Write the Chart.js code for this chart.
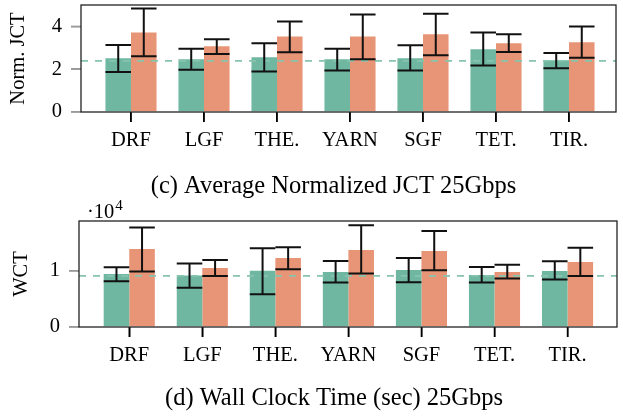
<!DOCTYPE html>
<html>
<head>
<meta charset="utf-8">
<script src="https://cdn.jsdelivr.net/npm/chart.js@4.4.1/dist/chart.umd.min.js"></script>
<style>
  html, body { margin: 0; padding: 0; background: #fff; }
  #wrap { position: relative; width: 623px; height: 416px; }
  .box { position: absolute; left: 0; width: 623px; }
  #top { top: 0; height: 200px; }
  #bot { top: 200px; height: 216px; }
</style>
</head>
<body>
<div id="wrap">
  <div class="box" id="top"><canvas id="jctChart"></canvas></div>
  <div class="box" id="bot"><canvas id="wctChart"></canvas></div>
</div>
<script>
const categories = ["DRF", "LGF", "THE.", "YARN", "SGF", "TET.", "TIR."];

// (c) normalized JCT
const jctGreen = [2.51, 2.47, 2.56, 2.47, 2.51, 2.93, 2.42];
const jctGreenLow = [1.87, 1.98, 1.89, 1.94, 1.94, 2.17, 2.05];
const jctGreenHigh = [3.13, 2.95, 3.21, 2.96, 3.12, 3.71, 2.76];
const jctOrange = [3.72, 3.07, 3.53, 3.53, 3.63, 3.21, 3.26];
const jctOrangeLow = [2.6, 2.71, 2.79, 2.47, 2.65, 2.8, 2.53];
const jctOrangeHigh = [4.84, 3.4, 4.23, 4.56, 4.59, 3.63, 4.0];
const jctRef = 2.39;
const jctTicks = [0, 2, 4];

// (d) wall clock time (sec)
const wctGreen = [9470, 9170, 10050, 9820, 10180, 9290, 10000];
const wctGreenLow = [8170, 6980, 5860, 7920, 7990, 7920, 8460];
const wctGreenHigh = [10660, 11300, 14030, 11780, 12310, 10710, 11720];
const wctOrange = [13900, 10530, 12310, 13730, 13550, 9820, 11600];
const wctOrangeLow = [9880, 9110, 10300, 9520, 10120, 8630, 9110];
const wctOrangeHigh = [17760, 11950, 14210, 18120, 17110, 11120, 14140];
const wctRef = 9110;
const wctTicks = [0, 10000];

const FONT = "'Liberation Serif', 'DejaVu Serif', serif";
const GREEN = "#70b7a1";
const ORANGE = "#e89577";

//barras de error, marcas de los ejes y marco del gráfico
const errorBars = {
  id: "errorBars",
  afterDatasetsDraw(chart) {
    const ctx = chart.ctx;
    const area = chart.chartArea;
    const x = chart.scales.x;
    const y = chart.scales.y;
    ctx.save();
    // marcas del eje x (negras, hacia abajo)
    ctx.strokeStyle = "#000";
    ctx.lineWidth = 1.5;
    x.ticks.forEach((t, i) => {
      const px = x.getPixelForTick(i);
      ctx.beginPath();
      ctx.moveTo(px, area.bottom);
      ctx.lineTo(px, area.bottom + 10);
      ctx.stroke();
    });
    // marcas del eje y (grises, hacia la izquierda)
    ctx.strokeStyle = "#9a9a9a";
    y.ticks.forEach((t, i) => {
      const py = y.getPixelForTick(i);
      ctx.beginPath();
      ctx.moveTo(area.left - 10, py);
      ctx.lineTo(area.left, py);
      ctx.stroke();
    });
    ctx.strokeStyle = "#222";
    ctx.lineWidth = 1.3;
    ctx.strokeRect(area.left, area.top, area.right - area.left, area.bottom - area.top);
    ctx.strokeStyle = "#111";
    ctx.lineWidth = 2;
    chart.data.datasets.forEach((ds, d) => {
      if (!ds.errLow) return;
      const meta = chart.getDatasetMeta(d);
      meta.data.forEach((bar, i) => {
        const lo = y.getPixelForValue(ds.errLow[i]);
        const hi = y.getPixelForValue(ds.errHigh[i]);
        const half = bar.width / 2;
        ctx.beginPath();
        ctx.moveTo(bar.x, lo);
        ctx.lineTo(bar.x, hi);
        ctx.moveTo(bar.x - half, lo);
        ctx.lineTo(bar.x + half, lo);
        ctx.moveTo(bar.x - half, hi);
        ctx.lineTo(bar.x + half, hi);
        ctx.stroke();
      });
    });
    ctx.restore();
  },
};

// texto del pie (caption) y ·10^4 encima del eje y
const captionText = {
  id: "captionText",
  afterDraw(chart, args, opts) {
    const ctx = chart.ctx;
    const left = chart.chartArea.left;
    ctx.save();
    ctx.fillStyle = "#000";
    ctx.textAlign = "center";
    ctx.textBaseline = "middle";
    ctx.font = "24.5px " + FONT;
    ctx.fillText(opts.text, opts.x, opts.y);
    if (opts.exponent) {
      ctx.textAlign = "left";
      ctx.textBaseline = "alphabetic";
      ctx.font = "20.5px " + FONT;
      ctx.fillText("\u00b710", left + 8, 18);
      const w = ctx.measureText("\u00b710").width;
      ctx.font = "15px " + FONT;
      ctx.fillText("4", left + 8 + w + 1, 10);
    }
    ctx.restore();
  },
};

function makeChart(id, cfg) {
  const ctx = document.getElementById(id).getContext("2d");
  const toPoints = (arr) => arr.map((v, i) => ({ x: i, y: v }));
  return new Chart(ctx, {
    type: "bar",
    data: {
      datasets: [
        {
          type: "line",
          label: "reference",
          data: [{ x: cfg.xMin, y: cfg.ref }, { x: cfg.xMax, y: cfg.ref }],
          borderColor: "#86c4ae",
          borderWidth: 1.6,
          borderDash: [7, 7],
          pointRadius: 0,
          order: 0,
        },
        {
          label: "A",
          data: toPoints(cfg.green),
          errLow: cfg.greenLow,
          errHigh: cfg.greenHigh,
          backgroundColor: GREEN,
          borderWidth: 0,
          order: 1,
        },
        {
          label: "B",
          data: toPoints(cfg.orange),
          errLow: cfg.orangeLow,
          errHigh: cfg.orangeHigh,
          backgroundColor: ORANGE,
          borderWidth: 0,
          order: 1,
        },
      ],
    },
    options: {
      responsive: true,
      maintainAspectRatio: false,
      animation: false,
      categoryPercentage: 0.7,
      barPercentage: 1,
      layout: { padding: cfg.padding },
      scales: {
        x: {
          type: "linear",
          min: cfg.xMin,
          max: cfg.xMax,
          offset: false,
          afterBuildTicks: (scale) => {
            scale.ticks = categories.map((c, i) => ({ value: i }));
          },
          afterFit: (scale) => {
            scale.height = cfg.xHeight;
            scale.paddingLeft = 0;
            scale.paddingRight = 0;
          },
          ticks: {
            callback: (v) => categories[v],
            autoSkip: false,
            maxRotation: 0,
            padding: 6,
            color: "#000",
            font: { family: FONT, size: 20.5 },
          },
          grid: { offset: false, drawOnChartArea: false, tickLength: 10, color: "#000", lineWidth: 1.5 },
          border: { display: false },
        },
        y: {
          min: 0,
          max: cfg.yMax,
          afterBuildTicks: (scale) => {
            scale.ticks = cfg.ticks.map((v) => ({ value: v }));
          },
          afterFit: (scale) => {
            scale.width = cfg.yWidth;
            scale.paddingTop = 0;
            scale.paddingBottom = 0;
          },
          ticks: {
            callback: cfg.tickFmt,
            padding: 9,
            color: "#000",
            font: { family: FONT, size: 20.5 },
          },
          title: {
            display: true,
            text: cfg.yTitle,
            color: "#000",
            font: { family: FONT, size: 20.5 },
            padding: { top: cfg.yTitlePad, bottom: 0 },
          },
          grid: { drawOnChartArea: false, tickLength: 10, color: "#9a9a9a", lineWidth: 1.5 },
          border: { display: false },
        },
      },
      plugins: {
        legend: { display: false },
        tooltip: { enabled: false },
        title: { display: false },
        captionText: cfg.caption,
      },
    },
    plugins: [errorBars, captionText],
  });
}

document.addEventListener("DOMContentLoaded", function () {
  makeChart("jctChart", {
    green: jctGreen,
    greenLow: jctGreenLow,
    greenHigh: jctGreenHigh,
    orange: jctOrange,
    orangeLow: jctOrangeLow,
    orangeHigh: jctOrangeHigh,
    ref: jctRef,
    ticks: jctTicks,
    yMax: 5,
    tickFmt: (v) => v,
    yTitle: "Norm. JCT",
    yTitlePad: 6,
    xMin: -0.685,
    xMax: 6.644,
    padding: { left: 0, top: 5, right: 7, bottom: 41 },
    yWidth: 81,
    xHeight: 47,
    caption: { text: "(c) Average Normalized JCT 25Gbps", x: 333.5, y: 186.5, exponent: false },
  });

  makeChart("wctChart", {
    green: wctGreen,
    greenLow: wctGreenLow,
    greenHigh: wctGreenHigh,
    orange: wctOrange,
    orangeLow: wctOrangeLow,
    orangeHigh: wctOrangeHigh,
    ref: wctRef,
    ticks: wctTicks,
    yMax: 18900,
    tickFmt: (v) => v / 10000,
    yTitle: "WCT",
    yTitlePad: 9,
    xMin: -0.688,
    xMax: 6.677,
    padding: { left: 0, top: 21, right: 6, bottom: 42 },
    yWidth: 79,
    xHeight: 47,
    caption: { text: "(d) Wall Clock Time (sec) 25Gbps", x: 334, y: 199, exponent: true },
  });
});
</script>
</body>
</html>
